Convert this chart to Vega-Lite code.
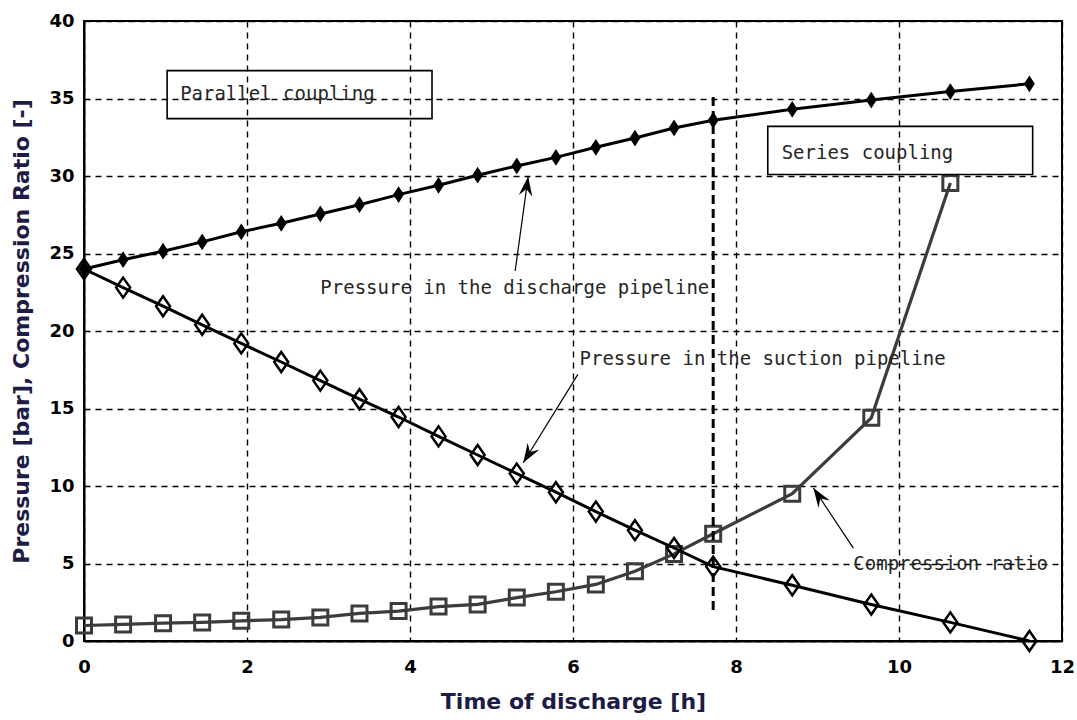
{
  "$schema": "https://vega.github.io/schema/vega-lite/v6.json",
  "autosize": {"type": "none"},
  "padding": {"left": 84, "top": 21, "right": 15, "bottom": 79},
  "width": 978,
  "height": 620,
  "background": "white",
  "config": {
    "view": {"stroke": "black", "strokeWidth": 2},
    "axis": {
      "labelFont": "DejaVu Sans", "labelFontWeight": "bold", "labelFontSize": 18, "labelColor": "black",
      "labelFlush": false, "format": "d",
      "titleFont": "DejaVu Sans", "titleFontWeight": "bold", "titleFontSize": 22, "titleColor": "#1c1c46",
      "domainColor": "black", "domainWidth": 2,
      "ticks": false,
      "grid": true, "gridColor": "black", "gridDash": [6, 5], "gridWidth": 1.4, "gridOpacity": 1
    }
  },
  "datasets": {
    "series": [
      {"t": 0, "suction": 24.0, "discharge": 24.0, "ratio": 1.0},
      {"t": 0.48, "suction": 22.8, "discharge": 24.6, "ratio": 1.07},
      {"t": 0.97, "suction": 21.6, "discharge": 25.15, "ratio": 1.15},
      {"t": 1.45, "suction": 20.4, "discharge": 25.75, "ratio": 1.2},
      {"t": 1.93, "suction": 19.2, "discharge": 26.4, "ratio": 1.3},
      {"t": 2.42, "suction": 18.0, "discharge": 26.95, "ratio": 1.38},
      {"t": 2.9, "suction": 16.8, "discharge": 27.55, "ratio": 1.52},
      {"t": 3.38, "suction": 15.6, "discharge": 28.15, "ratio": 1.78},
      {"t": 3.86, "suction": 14.45, "discharge": 28.8, "ratio": 1.93},
      {"t": 4.35, "suction": 13.2, "discharge": 29.4, "ratio": 2.22},
      {"t": 4.83, "suction": 12.0, "discharge": 30.05, "ratio": 2.36},
      {"t": 5.31, "suction": 10.8, "discharge": 30.65, "ratio": 2.8},
      {"t": 5.79, "suction": 9.6, "discharge": 31.2, "ratio": 3.18},
      {"t": 6.28, "suction": 8.35, "discharge": 31.85, "ratio": 3.65},
      {"t": 6.76, "suction": 7.15, "discharge": 32.45, "ratio": 4.5},
      {"t": 7.24, "suction": 6.0, "discharge": 33.1, "ratio": 5.62},
      {"t": 7.72, "suction": 4.8, "discharge": 33.6, "ratio": 6.92},
      {"t": 8.69, "suction": 3.6, "discharge": 34.3, "ratio": 9.5},
      {"t": 9.66, "suction": 2.35, "discharge": 34.9, "ratio": 14.4},
      {"t": 10.63, "suction": 1.2, "discharge": 35.45, "ratio": 29.55},
      {"t": 11.6, "suction": 0.0, "discharge": 35.95, "ratio": null}
    ],
    "boxes": [
      {"x1": 1.02, "x2": 4.27, "y1": 33.7, "y2": 36.8},
      {"x1": 8.39, "x2": 11.64, "y1": 30.1, "y2": 33.2}
    ],
    "labels": [
      {"x": 1.18, "y": 35.3, "text": "Parallel coupling"},
      {"x": 8.56, "y": 31.5, "text": "Series coupling"},
      {"x": 2.9, "y": 22.8, "text": "Pressure in the discharge pipeline"},
      {"x": 6.08, "y": 18.2, "text": "Pressure in the suction pipeline"},
      {"x": 9.44, "y": 4.96, "text": "Compression ratio"}
    ],
    "arrows": [
      {"x1": 5.29, "y1": 23.87, "x2": 5.45, "y2": 29.96},
      {"x1": 6.06, "y1": 17.2, "x2": 5.39, "y2": 11.5},
      {"x1": 9.44, "y1": 5.99, "x2": 8.95, "y2": 9.87}
    ],
    "divider": [
      {"x": 7.72, "y1": 2.0, "y2": 35.4}
    ]
  },
  "layer": [
    {
      "data": {"name": "series"},
      "mark": {"type": "line", "color": "#3c3c3c", "strokeWidth": 3.2},
      "encoding": {
        "x": {"field": "t", "type": "quantitative", "scale": {"domain": [0, 12], "nice": false}, "axis": {"values": [0, 2, 4, 6, 8, 10, 12], "title": "Time of discharge [h]", "labelPadding": 17, "titlePadding": 15}},
        "y": {"field": "ratio", "type": "quantitative", "scale": {"domain": [0, 40], "nice": false}, "axis": {"values": [0, 5, 10, 15, 20, 25, 30, 35, 40], "title": "Pressure [bar], Compression Ratio [-]", "labelPadding": 10, "titlePadding": 15}}
      }
    },
    {
      "data": {"name": "series"},
      "mark": {"type": "point", "shape": "square", "size": 225, "filled": false, "stroke": "#3c3c3c", "strokeWidth": 3, "opacity": 1},
      "encoding": {
        "x": {"field": "t", "type": "quantitative"},
        "y": {"field": "ratio", "type": "quantitative"}
      }
    },
    {
      "data": {"name": "divider"},
      "mark": {"type": "rule", "color": "black", "strokeWidth": 3, "strokeDash": [9, 5]},
      "encoding": {
        "x": {"field": "x", "type": "quantitative"},
        "y": {"field": "y1", "type": "quantitative"},
        "y2": {"field": "y2"}
      }
    },
    {
      "data": {"name": "series"},
      "mark": {"type": "line", "color": "black", "strokeWidth": 3},
      "encoding": {
        "x": {"field": "t", "type": "quantitative"},
        "y": {"field": "discharge", "type": "quantitative"}
      }
    },
    {
      "data": {"name": "series"},
      "mark": {"type": "point", "shape": "M0,-1L0.65,0L0,1L-0.65,0Z", "size": 280, "filled": true, "color": "black", "opacity": 1},
      "encoding": {
        "x": {"field": "t", "type": "quantitative"},
        "y": {"field": "discharge", "type": "quantitative"}
      }
    },
    {
      "data": {"name": "series"},
      "mark": {"type": "line", "color": "black", "strokeWidth": 3},
      "encoding": {
        "x": {"field": "t", "type": "quantitative"},
        "y": {"field": "suction", "type": "quantitative"}
      }
    },
    {
      "data": {"name": "series"},
      "mark": {"type": "point", "shape": "M0,-1L0.7,0L0,1L-0.7,0Z", "size": 400, "filled": false, "stroke": "black", "strokeWidth": 2.5, "opacity": 1},
      "encoding": {
        "x": {"field": "t", "type": "quantitative"},
        "y": {"field": "suction", "type": "quantitative"}
      }
    },
    {
      "data": {"name": "boxes"},
      "mark": {"type": "rect", "fillOpacity": 0, "fill": "white", "stroke": "black", "strokeWidth": 1.6},
      "encoding": {
        "x": {"field": "x1", "type": "quantitative"},
        "x2": {"field": "x2"},
        "y": {"field": "y1", "type": "quantitative"},
        "y2": {"field": "y2"}
      }
    },
    {
      "data": {"name": "labels"},
      "mark": {"type": "text", "font": "DejaVu Sans Mono", "fontSize": 19, "align": "left", "baseline": "middle", "color": "#262626"},
      "encoding": {
        "x": {"field": "x", "type": "quantitative"},
        "y": {"field": "y", "type": "quantitative"},
        "text": {"field": "text"}
      }
    },
    {
      "data": {"name": "arrows"},
      "mark": {"type": "rule", "color": "black", "strokeWidth": 1.2},
      "encoding": {
        "x": {"field": "x1", "type": "quantitative"},
        "y": {"field": "y1", "type": "quantitative"},
        "x2": {"field": "x2"},
        "y2": {"field": "y2"}
      }
    },
    {
      "data": {"name": "arrows"},
      "transform": [
        {"calculate": "atan2((datum.x2 - datum.x1) * 81.5, (datum.y2 - datum.y1) * 15.5) * 180 / PI", "as": "ang"}
      ],
      "mark": {"type": "point", "shape": "M0,0L0.6,1.7L0,1.1L-0.6,1.7Z", "size": 520, "filled": true, "color": "black", "opacity": 1},
      "encoding": {
        "x": {"field": "x2", "type": "quantitative"},
        "y": {"field": "y2", "type": "quantitative"},
        "angle": {"field": "ang", "type": "quantitative", "scale": null}
      }
    }
  ]
}
